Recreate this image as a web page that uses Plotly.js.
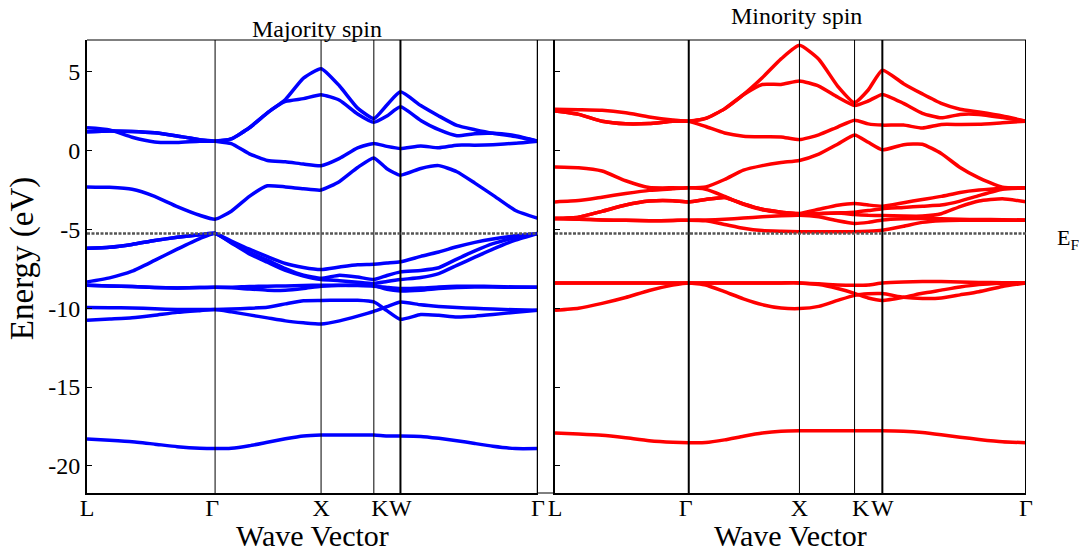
<!DOCTYPE html>
<html>
<head>
<meta charset="utf-8">
<script src="https://cdn.plot.ly/plotly-3.0.1.min.js"></script>
<style>html,body{margin:0;padding:0;background:#fff;}#chart{width:1086px;height:554px;}</style>
</head>
<body>
<div id="chart"></div>
<script>
// k-path sample positions (fraction of path L-Γ-X-K-W-Γ)
const kGrid = [0, 0.05, 0.10, 0.15, 0.20, 0.25, 0.284, 0.32, 0.36, 0.40, 0.44, 0.48, 0.519, 0.56, 0.60, 0.636, 0.665, 0.695, 0.74, 0.78, 0.82, 0.86, 0.90, 0.95, 1.0];
const highSym = [0, 0.284, 0.519, 0.636, 0.695, 1.0];
const highSymLabels = ['L', 'Γ\u00a0', 'X', '\u00a0\u00a0K', 'W', 'Γ'];
const yTickVals = [-20, -15, -10, -5, 0, 5];
const yTickText = ['-20', '-15', '-10', '-5', '0', '5'];
const fermiEnergy = -5.25;

// Majority spin bands (eV)
const maj1 = [1.45, 1.32, 0.85, 0.55, 0.52, 0.6, 0.6, 0.75, 1.45, 2.4, 3.25, 4.6, 5.2, 4.1, 2.7, 2.04, 2.9, 3.73, 2.86, 2.2, 1.6, 1.33, 1.1, 0.9, 0.6];
const maj2 = [1.2, 1.25, 1.22, 1.13, 0.93, 0.7, 0.6, 0.75, 1.45, 2.4, 3.12, 3.3, 3.55, 3.2, 2.33, 1.8, 2.2, 2.78, 1.92, 1.33, 0.95, 1.08, 1.1, 0.95, 0.6];
const maj3 = [1.2, 1.25, 1.22, 1.13, 0.93, 0.7, 0.6, 0.45, -0.2, -0.62, -0.71, -0.85, -0.96, -0.49, 0.17, 0.46, 0.27, 0.14, 0.3, 0.18, 0.35, 0.35, 0.38, 0.47, 0.6];
const maj4 = [-2.3, -2.33, -2.45, -2.9, -3.55, -4.1, -4.35, -3.84, -2.9, -2.23, -2.3, -2.42, -2.5, -1.95, -1.07, -0.46, -1.15, -1.56, -1.13, -0.95, -1.34, -2.06, -2.82, -3.8, -4.3];
const maj5 = [-6.2, -6.13, -5.95, -5.7, -5.5, -5.34, -5.25, -5.73, -6.25, -6.72, -7.16, -7.41, -7.54, -7.38, -7.24, -7.21, -7.13, -7.05, -6.71, -6.43, -6.1, -5.82, -5.6, -5.4, -5.25];
const maj6 = [-8.33, -8.07, -7.65, -6.96, -6.25, -5.58, -5.25, -5.82, -6.45, -6.95, -7.48, -7.9, -8.1, -7.9, -8.02, -8.18, -7.92, -7.69, -7.6, -7.43, -6.88, -6.36, -5.9, -5.52, -5.25];
const maj7 = [-6.2, -6.13, -5.95, -5.7, -5.5, -5.34, -5.25, -5.86, -6.55, -7.08, -7.6, -7.95, -8.18, -8.25, -8.35, -8.43, -8.3, -8.18, -8.05, -7.8, -7.28, -6.76, -6.25, -5.68, -5.25];
const maj8 = [-8.54, -8.58, -8.62, -8.68, -8.71, -8.69, -8.67, -8.67, -8.62, -8.6, -8.58, -8.55, -8.54, -8.54, -8.56, -8.6, -8.68, -8.75, -8.72, -8.65, -8.6, -8.6, -8.62, -8.65, -8.67];
const maj9 = [-8.54, -8.58, -8.62, -8.68, -8.71, -8.69, -8.67, -8.7, -8.78, -8.85, -8.86, -8.75, -8.6, -8.55, -8.52, -8.55, -8.8, -8.9, -8.85, -8.75, -8.68, -8.65, -8.65, -8.67, -8.67];
const maj10 = [-9.95, -9.97, -9.98, -10.03, -10.08, -10.08, -10.08, -10.05, -10.0, -9.93, -9.72, -9.52, -9.5, -9.49, -9.49, -9.6, -10.15, -10.7, -10.4, -10.45, -10.55, -10.5, -10.4, -10.25, -10.13];
const maj11 = [-10.76, -10.68, -10.6, -10.44, -10.26, -10.15, -10.08, -10.23, -10.42, -10.61, -10.8, -10.92, -11.0, -10.8, -10.5, -10.2, -9.9, -9.6, -9.78, -9.88, -9.95, -10.0, -10.05, -10.1, -10.13];
const maj12 = [-18.3, -18.38, -18.47, -18.62, -18.78, -18.88, -18.9, -18.88, -18.72, -18.5, -18.28, -18.1, -18.04, -18.04, -18.04, -18.04, -18.1, -18.1, -18.13, -18.25, -18.4, -18.58, -18.75, -18.9, -18.9];

// Minority spin bands (eV)
const min1 = [2.63, 2.6, 2.56, 2.4, 2.14, 1.95, 1.87, 2.05, 2.65, 3.55, 4.62, 5.82, 6.68, 5.8, 4.1, 3.05, 3.85, 5.1, 4.25, 3.6, 3.0, 2.63, 2.45, 2.2, 1.87];
const min2 = [2.51, 2.3, 1.86, 1.7, 1.72, 1.86, 1.87, 2.05, 2.65, 3.55, 4.2, 4.2, 4.42, 4.1, 3.4, 2.87, 3.15, 3.57, 3.0, 2.37, 2.08, 2.3, 2.3, 2.1, 1.87];
const min3 = [2.51, 2.3, 1.86, 1.7, 1.72, 1.86, 1.87, 1.53, 1.12, 0.92, 0.88, 0.87, 0.7, 1.0, 1.5, 1.93, 1.7, 1.62, 1.62, 1.43, 1.66, 1.66, 1.67, 1.77, 1.87];
const min4 = [-1.03, -1.08, -1.29, -1.91, -2.34, -2.36, -2.36, -2.3, -1.83, -1.24, -0.95, -0.75, -0.62, -0.22, 0.41, 1.0, 0.53, 0.05, 0.38, 0.41, -0.18, -1.07, -1.73, -2.32, -2.36];
const min5 = [-3.25, -3.17, -2.95, -2.72, -2.52, -2.42, -2.36, -2.45, -2.9, -3.4, -3.75, -3.93, -3.98, -3.72, -3.46, -3.35, -3.45, -3.52, -3.3, -3.1, -2.9, -2.65, -2.5, -2.4, -2.36];
const min6 = [-4.3, -4.22, -3.85, -3.45, -3.2, -3.18, -3.25, -3.1, -2.97, -3.38, -3.72, -3.9, -4.0, -4.0, -3.95, -3.9, -3.8, -3.68, -3.6, -3.52, -3.45, -3.2, -2.85, -2.45, -2.36];
const min7 = [-4.3, -4.35, -4.4, -4.42, -4.45, -4.43, -4.41, -4.4, -4.35, -4.28, -4.2, -4.13, -4.1, -4.2, -4.45, -4.62, -4.55, -4.4, -4.32, -4.3, -4.32, -4.35, -4.37, -4.38, -4.4];
const min8 = [-4.3, -4.35, -4.4, -4.42, -4.45, -4.43, -4.41, -4.45, -4.68, -4.92, -5.07, -5.12, -5.15, -5.15, -5.15, -5.15, -5.12, -5.05, -4.8, -4.55, -4.45, -4.42, -4.42, -4.42, -4.41];
const min9 = [-4.3, -4.22, -3.85, -3.45, -3.2, -3.18, -3.25, -3.1, -2.97, -3.38, -3.72, -3.9, -4.0, -3.98, -3.95, -4.05, -4.1, -4.12, -4.15, -4.15, -4.0, -3.55, -3.2, -3.05, -3.25];
const min10 = [-8.39, -8.39, -8.39, -8.39, -8.39, -8.39, -8.39, -8.39, -8.39, -8.39, -8.39, -8.39, -8.39, -8.45, -8.52, -8.54, -8.52, -8.4, -8.33, -8.3, -8.3, -8.33, -8.36, -8.38, -8.39];
const min11 = [-10.13, -10.0, -9.69, -9.32, -8.87, -8.53, -8.39, -8.52, -8.95, -9.4, -9.77, -9.98, -10.02, -9.88, -9.5, -9.18, -9.08, -9.07, -9.3, -9.38, -9.35, -9.15, -8.95, -8.62, -8.39];
const min12 = [-8.39, -8.39, -8.39, -8.39, -8.39, -8.39, -8.39, -8.39, -8.39, -8.39, -8.39, -8.39, -8.39, -8.5, -8.75, -9.05, -9.35, -9.5, -9.3, -9.05, -8.85, -8.65, -8.5, -8.42, -8.39];
const min13 = [-17.92, -17.98, -18.06, -18.22, -18.4, -18.5, -18.53, -18.52, -18.35, -18.12, -17.92, -17.8, -17.77, -17.77, -17.77, -17.77, -17.77, -17.77, -17.8, -17.88, -18.02, -18.18, -18.32, -18.47, -18.53];

const majBands = [maj1, maj2, maj3, maj4, maj5, maj6, maj7, maj8, maj9, maj10, maj11, maj12];
const minBands = [min1, min2, min3, min4, min5, min6, min7, min8, min9, min10, min11, min12, min13];

const FONT = 'Liberation Serif';
const traces = [];
majBands.forEach(b => traces.push({x: kGrid, y: b, xaxis: 'x', yaxis: 'y', type: 'scatter', mode: 'lines',
  line: {color: '#0000ff', width: 3.5, shape: 'spline', smoothing: 0.5}, hoverinfo: 'skip', showlegend: false}));
minBands.forEach(b => traces.push({x: kGrid, y: b, xaxis: 'x2', yaxis: 'y2', type: 'scatter', mode: 'lines',
  line: {color: '#ff0000', width: 3.5, shape: 'spline', smoothing: 0.5}, hoverinfo: 'skip', showlegend: false}));

const yRange = [-21.72, 7.02];
const xAxisBase = {range: [0, 1], tickvals: highSym, ticktext: highSymLabels, ticks: '', tickangle: 0, ticklabelstandoff: -8,
  showgrid: false, zeroline: false, showline: true, linecolor: '#000', linewidth: 2, mirror: false,
  tickfont: {family: FONT, size: 24, color: '#000'}, fixedrange: true};
const yAxisBase = {range: yRange, tickvals: yTickVals, ticktext: yTickText, ticks: 'inside', ticklen: 5, tickwidth: 1, tickcolor: '#000',
  showgrid: false, zeroline: false, showline: true, linecolor: '#000', linewidth: 2, mirror: false,
  tickfont: {family: FONT, size: 24, color: '#000'}, fixedrange: true};

const shapes = [];
const vWidthsL = [0, 1, 1, 1, 2, 2.5];
const vWidthsR = [0, 2, 1, 1, 2, 2];
highSym.forEach((k, i) => {
  if (i === 0) return;
  shapes.push({type: 'line', xref: 'x', yref: 'paper', x0: k, x1: k, y0: 0, y1: 1, line: {color: '#000', width: vWidthsL[i]}});
  shapes.push({type: 'line', xref: 'x2', yref: 'paper', x0: k, x1: k, y0: 0, y1: 1, line: {color: '#000', width: vWidthsR[i]}});
});
// frame lines
shapes.push({type: 'line', xref: 'paper', yref: 'paper', x0: 0, x1: 1, y0: 1, y1: 1, line: {color: '#000', width: 1}});
shapes.push({type: 'line', xref: 'paper', yref: 'paper', x0: 0.4803, x1: 0.4984, y0: 0, y1: 0, line: {color: '#000', width: 1}});
// Fermi level
shapes.push({type: 'line', xref: 'x', yref: 'y', x0: 0, x1: 1, y0: fermiEnergy, y1: fermiEnergy, line: {color: '#555', width: 2.5, dash: '3px,1.5px'}});
shapes.push({type: 'line', xref: 'x2', yref: 'y2', x0: 0, x1: 1, y0: fermiEnergy, y1: fermiEnergy, line: {color: '#555', width: 2.5, dash: '3px,1.5px'}});

const annotations = [
  {text: 'Majority spin', xref: 'paper', yref: 'paper', x: 0.245, y: 1.024, xanchor: 'center', yanchor: 'middle', showarrow: false, font: {family: FONT, size: 24, color: '#000'}},
  {text: 'Minority spin', xref: 'paper', yref: 'paper', x: 0.756, y: 1.052, xanchor: 'center', yanchor: 'middle', showarrow: false, font: {family: FONT, size: 24, color: '#000'}},
  {text: 'Wave Vector', xref: 'paper', yref: 'paper', x: 0.2401, y: -0.1346, xanchor: 'center', yanchor: 'bottom', showarrow: false, font: {family: FONT, size: 30, color: '#000'}},
  {text: 'Wave Vector', xref: 'paper', yref: 'paper', x: 0.7492, y: -0.1346, xanchor: 'center', yanchor: 'bottom', showarrow: false, font: {family: FONT, size: 30, color: '#000'}},
  {text: 'Energy (eV)', xref: 'paper', yref: 'paper', x: -0.068, y: 0.5166, xanchor: 'center', yanchor: 'middle', textangle: -90, showarrow: false, font: {family: FONT, size: 33, color: '#000'}},
  {text: 'E<sub>F</sub>', xref: 'paper', yref: 'paper', x: 1.031, y: 0.56, xanchor: 'left', yanchor: 'middle', showarrow: false, font: {family: FONT, size: 22, color: '#000'}}
];

const layout = {
  width: 1086, height: 554,
  margin: {l: 87, r: 60, t: 40, b: 61, pad: 0},
  paper_bgcolor: '#fff', plot_bgcolor: '#fff',
  font: {family: FONT, size: 24, color: '#000'},
  showlegend: false,
  xaxis: Object.assign({}, xAxisBase, {domain: [0, 0.4803], anchor: 'y'}),
  yaxis: Object.assign({}, yAxisBase, {anchor: 'x'}),
  xaxis2: Object.assign({}, xAxisBase, {domain: [0.4984, 1], anchor: 'y2'}),
  yaxis2: Object.assign({}, yAxisBase, {anchor: 'x2', showticklabels: false}),
  shapes: shapes,
  annotations: annotations
};

Plotly.newPlot('chart', traces, layout, {staticPlot: true, displayModeBar: false});
</script>
</body>
</html>
